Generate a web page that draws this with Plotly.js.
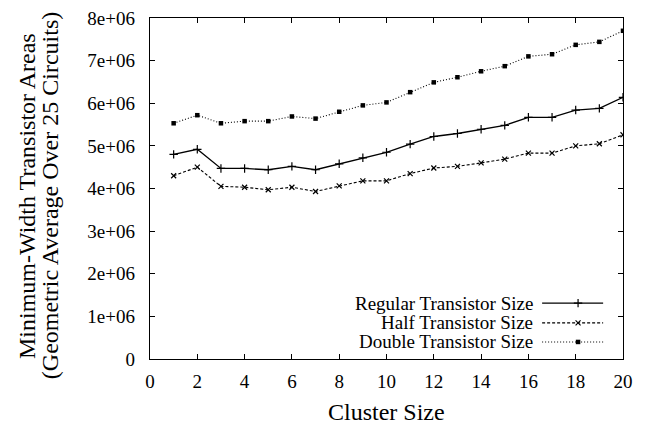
<!DOCTYPE html>
<html>
<head>
<meta charset="utf-8">
<script src="https://cdn.plot.ly/plotly-3.0.1.min.js"></script>
<style>html,body{margin:0;padding:0;background:#fff;}#chart{width:649px;height:427px;}</style>
</head>
<body>
<div id="chart"></div>
<script>
const clusterSize = [1,2,3,4,5,6,7,8,9,10,11,12,13,14,15,16,17,18,19,20];
const regular = [4.80e6,4.92e6,4.47e6,4.47e6,4.44e6,4.52e6,4.44e6,4.58e6,4.72e6,4.85e6,5.04e6,5.22e6,5.29e6,5.39e6,5.48e6,5.67e6,5.67e6,5.84e6,5.88e6,6.14e6];
const half = [4.30e6,4.50e6,4.05e6,4.03e6,3.97e6,4.03e6,3.93e6,4.06e6,4.18e6,4.18e6,4.35e6,4.48e6,4.52e6,4.60e6,4.69e6,4.83e6,4.83e6,5.00e6,5.05e6,5.26e6];
const dbl = [5.53e6,5.72e6,5.53e6,5.58e6,5.58e6,5.69e6,5.64e6,5.80e6,5.95e6,6.02e6,6.26e6,6.49e6,6.61e6,6.75e6,6.87e6,7.10e6,7.15e6,7.37e6,7.44e6,7.70e6];
const seriesNames = ["Regular Transistor Size","Half Transistor Size","Double Transistor Size"];
const xTicks = [0,2,4,6,8,10,12,14,16,18,20];
const yTicks = [0,1e6,2e6,3e6,4e6,5e6,6e6,7e6,8e6];
const yTickText = ["0","1e+06","2e+06","3e+06","4e+06","5e+06","6e+06","7e+06","8e+06"];
const xTitle = "Cluster Size";
const yTitleLines = ["Minimum-Width Transistor Areas","(Geometric Average Over 25 Circuits)"];

const FAM = '"Liberation Serif"';
const styles = [
  {line:{color:'#000',width:1.3,dash:'solid'}, marker:{symbol:'cross-thin-open',size:6,color:'#000',line:{width:1.2,color:'#000'}}},
  {line:{color:'#000',width:1.1,dash:'3px,2px'}, marker:{symbol:'x-thin-open',size:5,color:'#000',line:{width:1.2,color:'#000'}}},
  {line:{color:'#000',width:1.1,dash:'1px,2px'}, marker:{symbol:'square',size:4.5,color:'#000'}}
];
const ys = [regular, half, dbl];
const traces = ys.map((y,i)=>({x:clusterSize,y:y,type:'scatter',mode:'lines+markers',name:seriesNames[i],line:styles[i].line,marker:styles[i].marker,showlegend:false}));

// manual legend (text left of sample, as in reference)
const legY = [0.164,0.106,0.050];
const annotations = seriesNames.map((n,i)=>({xref:'paper',yref:'paper',x:0.814,y:legY[i],xanchor:'right',yanchor:'middle',text:n,showarrow:false,font:{family:FAM,size:19,color:'#000'}}));
seriesNames.forEach((n,i)=>{
  traces.push({x:[0.829,0.958],y:[legY[i],legY[i]],xaxis:'x2',yaxis:'y2',type:'scatter',mode:'lines',line:styles[i].line,showlegend:false,hoverinfo:'skip'});
  traces.push({x:[0.905],y:[legY[i]],xaxis:'x2',yaxis:'y2',type:'scatter',mode:'markers',marker:styles[i].marker,showlegend:false,hoverinfo:'skip'});
});
// axis titles
annotations.push({xref:'paper',yref:'paper',x:0.5,y:-0.155,xanchor:'center',yanchor:'middle',text:xTitle,showarrow:false,font:{family:FAM,size:24,color:'#000'}});
annotations.push({xref:'paper',yref:'paper',x:-0.260,y:0.478,xanchor:'center',yanchor:'middle',textangle:-90,text:yTitleLines[0],showarrow:false,font:{family:FAM,size:24,color:'#000'}});
annotations.push({xref:'paper',yref:'paper',x:-0.211,y:0.478,xanchor:'center',yanchor:'middle',textangle:-90,text:yTitleLines[1],showarrow:false,font:{family:FAM,size:24,color:'#000'}});

const layout = {
  width:649,height:427,
  margin:{l:150,r:26,t:18,b:68},
  paper_bgcolor:'#fff',plot_bgcolor:'#fff',
  showlegend:false,
  font:{family:FAM,color:'#000'},
  xaxis:{range:[0,20],tickvals:xTicks,ticktext:xTicks.map(String),ticks:'inside',ticklen:5,tickwidth:1,tickcolor:'#000',mirror:'ticks',showline:true,linecolor:'#000',linewidth:1.3,showgrid:false,zeroline:false,ticklabelstandoff:5,tickfont:{family:FAM,size:19,color:'#000'}},
  yaxis:{range:[0,8e6],tickvals:yTicks,ticktext:yTickText,ticks:'inside',ticklen:5,tickwidth:1,tickcolor:'#000',mirror:'ticks',showline:true,linecolor:'#000',linewidth:1.3,showgrid:false,zeroline:false,ticklabelstandoff:10,tickfont:{family:FAM,size:19,color:'#000'}},
  xaxis2:{domain:[0,1],range:[0,1],anchor:'y2',overlaying:'x',visible:false,fixedrange:true},
  yaxis2:{domain:[0,1],range:[0,1],anchor:'x2',overlaying:'y',visible:false,fixedrange:true},
  annotations:annotations
};
Plotly.newPlot('chart',traces,layout,{displayModeBar:false,staticPlot:true});
</script>
</body>
</html>
